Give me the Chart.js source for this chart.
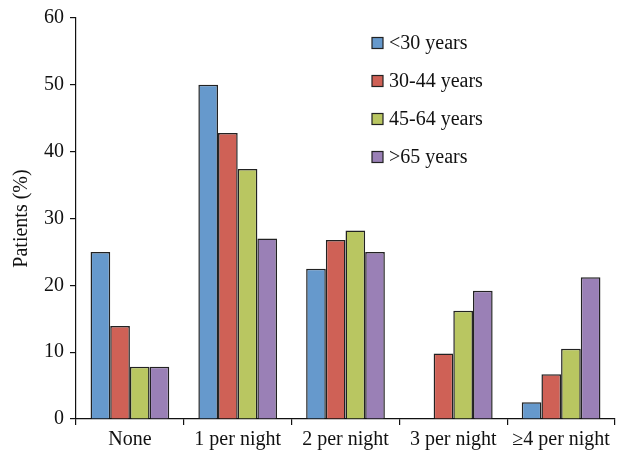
<!DOCTYPE html>
<html>
<head>
<meta charset="utf-8">
<script src="https://cdn.jsdelivr.net/npm/chart.js@4"></script>
<style>
  body { margin: 0; background: #fff; }
  #wrap { width: 625px; height: 455px; }
</style>
</head>
<body>
<div id="wrap"><canvas id="chart" width="625" height="455"></canvas></div>
<script>
const categories = ['None', '1 per night', '2 per night', '3 per night', '\u22654 per night'];
const seriesLabels = ['<30 years', '30-44 years', '45-64 years', '>65 years'];
const under30 = [25, 50, 22.5, 0, 2.5];
const age30to44 = [13.9, 42.8, 26.8, 9.8, 6.7];
const age45to64 = [7.8, 37.4, 28.2, 16.2, 10.5];
const over65 = [7.8, 27, 25, 19.2, 21.2];
const yTicks = [0, 10, 20, 30, 40, 50, 60];

const colors = ['#6699cc', '#cf6156', '#b9c661', '#9a80b6'];
const FONT = '"Liberation Serif", "Times New Roman", serif';

// legend drawn inside the plot, top right
const insideLegend = {
    id: 'insideLegend',
    afterDraw(chart) {
        const ctx = chart.ctx;
        const x = 372, y0 = 43, step = 38, box = 11;
        ctx.save();
        ctx.font = '20px ' + FONT;
        ctx.textBaseline = 'middle';
        chart.data.datasets.forEach((ds, i) => {
            const y = y0 + i * step;
            ctx.fillStyle = ds.backgroundColor;
            ctx.fillRect(x, y - box / 2, box, box);
            ctx.strokeStyle = '#222';
            ctx.lineWidth = 1.2;
            ctx.strokeRect(x, y - box / 2, box, box);
            ctx.fillStyle = '#111';
            ctx.fillText(ds.label, x + 17, y + 1);
        });
        ctx.restore();
    }
};

const ctx = document.getElementById('chart').getContext('2d');
new Chart(ctx, {
    type: 'bar',
    data: {
        labels: categories,
        datasets: [under30, age30to44, age45to64, over65].map((vals, i) => ({
            label: seriesLabels[i],
            data: vals,
            backgroundColor: colors[i],
            borderColor: '#222',
            borderWidth: 1.5,
            borderSkipped: 'bottom',
            categoryPercentage: 0.73,
            barPercentage: 1
        }))
    },
    options: {
        responsive: false,
        animation: false,
        layout: { padding: { top: 8, right: 10, left: 10, bottom: 0 } },
        plugins: {
            legend: { display: false },
            tooltip: { enabled: false }
        },
        scales: {
            x: {
                grid: { drawOnChartArea: false, drawTicks: true, tickLength: 6, color: '#111', lineWidth: 1.2 },
                border: { color: '#111', width: 1.2 },
                ticks: { color: '#111', font: { family: FONT, size: 20 }, padding: 3, maxRotation: 0, autoSkip: false }
            },
            y: {
                min: 0,
                max: 60,
                afterBuildTicks: axis => { axis.ticks = yTicks.map(v => ({ value: v })); },
                grid: { drawOnChartArea: false, drawTicks: true, tickLength: 6, color: '#111', lineWidth: 1.2 },
                border: { color: '#111', width: 1.2 },
                ticks: { color: '#111', font: { family: FONT, size: 20 }, padding: 6 },
                title: { display: true, text: 'Patients (%)', color: '#111', font: { family: FONT, size: 20 }, padding: { top: 0, bottom: 4 } }
            }
        }
    },
    plugins: [insideLegend]
});
</script>
</body>
</html>
